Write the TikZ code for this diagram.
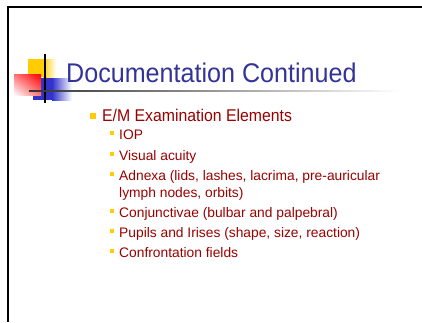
\documentclass[tikz,border=0pt]{standalone}
\usepackage{fontspec}
\usetikzlibrary{shadings}
\setmainfont{Liberation Sans}
\newfontfamily\narrowfont[FakeStretch=0.93]{Liberation Sans}
\definecolor{ttlblue}{RGB}{51,51,153}
\definecolor{txtred}{RGB}{153,0,0}
\definecolor{bulyel}{RGB}{255,204,0}
\definecolor{logoblue}{RGB}{51,51,204}
\definecolor{logored}{RGB}{255,0,0}
\begin{document}
\begin{tikzpicture}[x=1pt,y=-1pt,
  bul1/.style={fill=bulyel,draw=none},
  lvl1/.style={anchor=base west,inner sep=0pt,text=txtred,font=\narrowfont\fontsize{17}{20}\selectfont},
  lvl2/.style={anchor=base west,inner sep=0pt,text=txtred,font=\fontsize{13.8}{17}\selectfont}]
\useasboundingbox (0,0) rectangle (422,322);
\fill[white] (0,0) rectangle (422,322);
% frame
\draw[line width=2.2pt] (8,322) -- (8,7) -- (422,7);
% logo
\fill[bulyel] (28,59) rectangle (43,77);
\shade[left color=bulyel,right color=white] (43,59) rectangle (56,77);
\fill[logoblue] (33,78) rectangle (52,100);
\shade[left color=logoblue,right color=white] (52,78) rectangle (72,100);
\shade[upper right=logored,lower left=white,upper left=red!55!white,lower right=red!55!white] (14,74) rectangle (41,95);
\draw[line width=1.6pt] (45,54) -- (45,103);
\shade[left color=black!80,right color=white] (29,90.2) rectangle (400,91.8);
% title
\node[anchor=base west,inner sep=0pt,text=ttlblue,font=\narrowfont\fontsize{27}{30}\selectfont] (title) at (66,82) {Documentation Continued};
% bullets
\fill[bul1] (90,113) rectangle (96,119);
\node[lvl1] (l1) at (102,121) {E/M Examination Elements};
\foreach \y/\t [count=\i] in {139/IOP,160/Visual acuity,180/{Adnexa (lids, lashes, lacrima, pre-auricular},217/{Conjunctivae (bulbar and palpebral)},237/{Pupils and Irises (shape, size, reaction)},257/Confrontation fields}{
  \fill[bul1] (110,\y-8) rectangle (114,\y-4);
  \node[lvl2] (i\i) at (119,\y) {\t};
}
\node[lvl2] (i3b) at (119,197) {lymph nodes, orbits)};
\end{tikzpicture}
\end{document}
